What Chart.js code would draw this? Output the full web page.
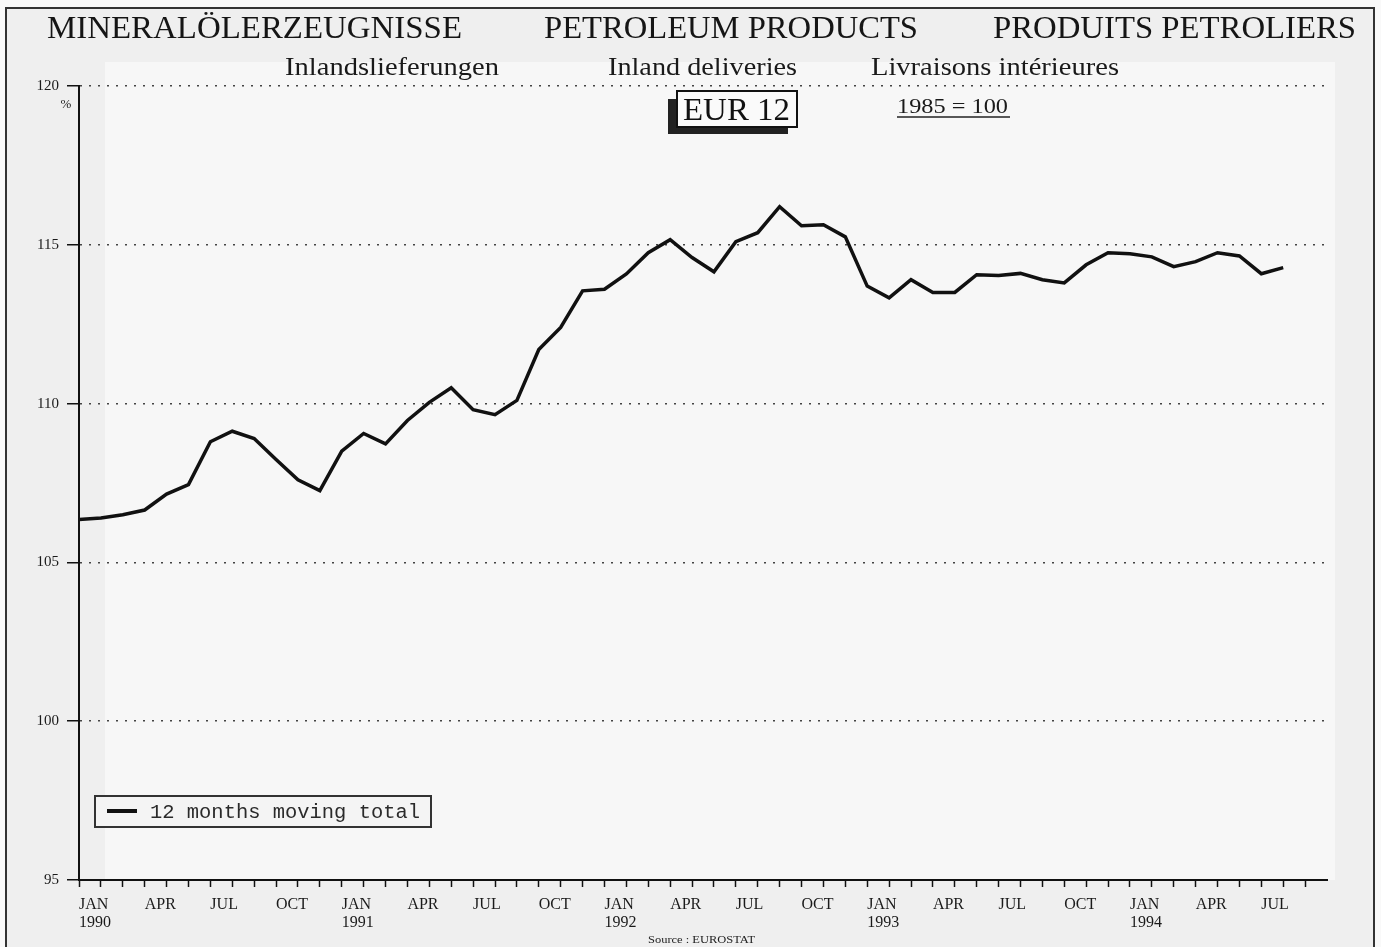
<!DOCTYPE html>
<html>
<head>
<meta charset="utf-8">
<script src="https://cdn.jsdelivr.net/npm/chart.js@4/dist/chart.umd.min.js"></script>
<style>
html,body{margin:0;padding:0;background:#f9f9f9;overflow:hidden;}
canvas{display:block;}
</style>
</head>
<body>
<canvas id="c" width="1381" height="947"></canvas>
<script>
// ---- data ----
const startYear = 1990;
const monthNames = ['JAN','FEB','MAR','APR','MAY','JUN','JUL','AUG','SEP','OCT','NOV','DEC'];
const yTicks = [95, 100, 105, 110, 115, 120];
const seriesLabel = '12 months moving total';
const movingTotal = [
  106.35, 106.4, 106.5, 106.65, 107.15, 107.45, 108.8, 109.13, 108.9, 108.24,
  107.6, 107.26, 108.5, 109.06, 108.73, 109.47, 110.04, 110.5, 109.81, 109.65,
  110.1, 111.7, 112.4, 113.55, 113.6, 114.08, 114.75, 115.16, 114.6, 114.15,
  115.1, 115.38, 116.2, 115.6, 115.63, 115.25, 113.7, 113.33, 113.9, 113.5,
  113.5, 114.06, 114.03, 114.1, 113.9, 113.8, 114.37, 114.75, 114.72, 114.62,
  114.31, 114.47, 114.75, 114.65, 114.09, 114.28
];
const titleTexts = ['MINERALÖLERZEUGNISSE', 'PETROLEUM PRODUCTS', 'PRODUITS PETROLIERS'];
const subTitleTexts = ['Inlandslieferungen', 'Inland deliveries', 'Livraisons intérieures'];
const regionText = 'EUR 12';
const baseText = '1985 = 100';
const unitText = '%';
const sourceText = 'Source : EUROSTAT';
const monthsOnAxis = 57;

const points = movingTotal.map((v, i) => ({x: i, y: v}));

function fitText(ctx, s, x1, x2, base, font, color) {
  ctx.save();
  ctx.font = font;
  ctx.fillStyle = color;
  const w = ctx.measureText(s).width;
  ctx.translate(x1, base);
  ctx.scale((x2 - x1) / w, 1);
  ctx.textAlign = 'left';
  ctx.textBaseline = 'alphabetic';
  ctx.fillText(s, 0, 0);
  ctx.restore();
}

const decor = {
  id: 'decor',
  beforeDraw(chart) {
    const ctx = chart.ctx;
    ctx.save();
    ctx.fillStyle = '#f9f9f9';
    ctx.fillRect(0, 0, chart.width, chart.height);
    ctx.fillStyle = '#efefef';
    ctx.fillRect(7, 9, 1366, 940);
    ctx.fillStyle = '#f7f7f7';
    ctx.fillRect(105, 62, 1230, 818);
    ctx.strokeStyle = '#333';
    ctx.lineWidth = 2;
    ctx.strokeRect(6, 8, 1368, 960);
    ctx.restore();
  },
  afterDraw(chart) {
    const ctx = chart.ctx;
    const serif = '"Liberation Serif", "Times New Roman", serif';
    // main titles
    fitText(ctx, titleTexts[0], 47, 462, 38, '32px ' + serif, '#151515');
    fitText(ctx, titleTexts[1], 544, 918, 38, '32px ' + serif, '#151515');
    fitText(ctx, titleTexts[2], 993, 1356, 38, '32px ' + serif, '#151515');
    // subtitles
    fitText(ctx, subTitleTexts[0], 285, 499, 75, '26px ' + serif, '#1a1a1a');
    fitText(ctx, subTitleTexts[1], 608, 797, 75, '26px ' + serif, '#1a1a1a');
    fitText(ctx, subTitleTexts[2], 871, 1119, 75, '26px ' + serif, '#1a1a1a');
    // EUR 12 box with shadow
    ctx.save();
    ctx.fillStyle = '#222';
    ctx.fillRect(668, 99, 120, 35);
    ctx.fillStyle = '#fafafa';
    ctx.fillRect(677, 91, 120, 36);
    ctx.strokeStyle = '#111';
    ctx.lineWidth = 2;
    ctx.strokeRect(677, 91, 120, 36);
    ctx.restore();
    fitText(ctx, regionText, 683, 790, 120, '32px ' + serif, '#111');
    // base text underlined
    fitText(ctx, baseText, 897, 1008, 113, '22px ' + serif, '#1a1a1a');
    ctx.save();
    ctx.strokeStyle = '#222';
    ctx.lineWidth = 1.5;
    ctx.beginPath();
    ctx.moveTo(897, 117);
    ctx.lineTo(1010, 117);
    ctx.stroke();
    ctx.restore();
    // unit
    ctx.save();
    ctx.font = '13px ' + serif;
    ctx.fillStyle = '#222';
    ctx.textAlign = 'center';
    ctx.fillText(unitText, 66, 108);
    ctx.restore();
    // legend
    ctx.save();
    ctx.fillStyle = '#f4f4f4';
    ctx.fillRect(95, 796, 336, 31);
    ctx.strokeStyle = '#333';
    ctx.lineWidth = 2;
    ctx.strokeRect(95, 796, 336, 31);
    ctx.strokeStyle = '#111';
    ctx.lineWidth = 4;
    ctx.beginPath();
    ctx.moveTo(107, 811);
    ctx.lineTo(137, 811);
    ctx.stroke();
    ctx.restore();
    fitText(ctx, chart.data.datasets[0].label, 150, 420, 818, '20px "Liberation Mono", "DejaVu Sans Mono", monospace', '#2a2a2a');
    // source
    fitText(ctx, sourceText, 648, 755, 943, '11px ' + serif, '#222');
  }
};

new Chart(document.getElementById('c'), {
  type: 'line',
  data: {
    datasets: [{
      label: seriesLabel,
      data: points,
      borderColor: '#111',
      borderWidth: 3.5,
      pointRadius: 0,
      tension: 0,
      fill: false
    }]
  },
  options: {
    responsive: false,
    devicePixelRatio: 1,
    animation: false,
    layout: {padding: {top: 86, right: 54, bottom: 0, left: 0}},
    plugins: {
      legend: {display: false},
      title: {display: false},
      tooltip: {enabled: false}
    },
    scales: {
      x: {
        type: 'linear',
        min: 0,
        max: monthsOnAxis,
        afterFit(scale) { scale.height = 67; },
        afterBuildTicks(scale) {
          const t = [];
          for (let i = 0; i <= monthsOnAxis; i++) t.push({value: i});
          scale.ticks = t;
        },
        ticks: {
          stepSize: 1,
          autoSkip: false,
          maxRotation: 0,
          minRotation: 0,
          align: 'start',
          padding: 9,
          color: '#1a1a1a',
          font: {family: '"Liberation Serif", "Times New Roman", serif', size: 16, lineHeight: 1.1},
          callback(value) {
            const m = value % 12;
            const y = startYear + Math.floor(value / 12);
            if (value === monthsOnAxis) return '';
            if (m % 3 !== 0) return '';
            if (m === 0) return [monthNames[m], String(y)];
            return monthNames[m];
          }
        },
        grid: {
          drawOnChartArea: false,
          drawTicks: true,
          tickLength: 7,
          tickWidth: 1.5,
          tickColor: (c) => (c.tick && c.tick.value === monthsOnAxis) ? 'rgba(0,0,0,0)' : '#111',
          tickBorderDash: []
        },
        border: {display: true, color: '#111', width: 2}
      },
      y: {
        min: yTicks[0],
        max: yTicks[yTicks.length - 1],
        afterFit(scale) { scale.width = 79; },
        afterBuildTicks(scale) {
          scale.ticks = yTicks.map(v => ({value: v}));
        },
        ticks: {
          padding: 8,
          color: '#1a1a1a',
          font: {family: '"Liberation Serif", "Times New Roman", serif', size: 15},
          callback: (v) => String(v)
        },
        grid: {
          drawOnChartArea: true,
          drawTicks: true,
          tickLength: 12,
          tickWidth: 1.5,
          tickColor: '#111',
          tickBorderDash: [],
          color: (c) => (c.tick && c.tick.value === yTicks[0]) ? 'rgba(0,0,0,0)' : '#444',
          lineWidth: 1.5
        },
        border: {display: true, color: '#111', width: 2, dash: [2, 7]}
      }
    }
  },
  plugins: [decor]
});
</script>
</body>
</html>
